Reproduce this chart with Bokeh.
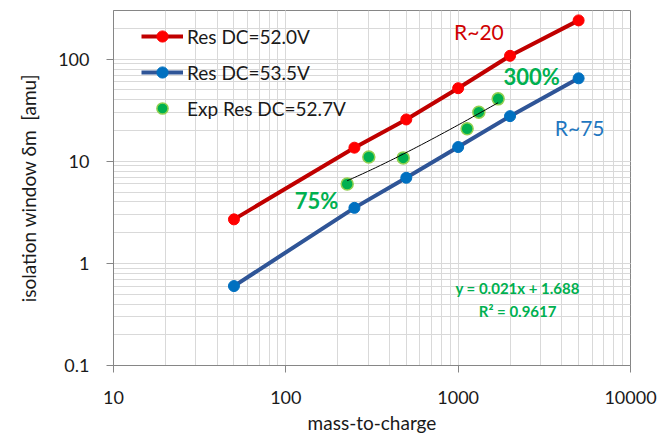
import numpy as np
from bokeh.plotting import figure
from bokeh.models import (Range1d, Legend, LegendItem, Label, LogTicker,
                          CustomJSTickFormatter)
from bokeh.embed import file_html
from bokeh.resources import INLINE

# ---- data ----
mz_res = [50, 250, 500, 1000, 2000, 5000]
res_dc_52_0 = [2.7, 13.6, 25.7, 52, 108, 240]
res_dc_53_5 = [0.6, 3.5, 6.9, 13.8, 27.7, 65]
mz_exp = [227, 303, 480, 1127, 1318, 1706]
exp_res_dc_52_7 = [6.0, 11.0, 10.8, 20.8, 30.3, 40.9]
trend_slope = 0.021
trend_intercept = 1.688
series_labels = ["Res DC=52.0V", "Res DC=53.5V", "Exp Res DC=52.7V"]

FONT = "Lato"
GREEN = "#00B050"

p = figure(width=660, height=441, x_axis_type="log", y_axis_type="log",
           x_range=Range1d(10, 10000), y_range=Range1d(0.1, 300),
           output_backend="svg", toolbar_location=None,
           min_border_left=113, min_border_right=30, min_border_top=10,
           min_border_bottom=76)

p.background_fill_color = "white"
p.outline_line_color = "#868686"
for ax in (p.xaxis, p.yaxis):
    ax.ticker = LogTicker(mantissas=[1], num_minor_ticks=10)
    ax.formatter = CustomJSTickFormatter(code="return Number(tick.toPrecision(6)).toString();")
    ax.axis_line_color = "#868686"
    ax.major_tick_line_color = "#868686"
    ax.major_tick_out = 7
    ax.major_tick_in = 0
    ax.minor_tick_out = 0
    ax.minor_tick_in = 0
    ax.major_label_text_font = FONT
    ax.major_label_text_font_size = "18px"
    ax.major_label_text_color = "#1a1a1a"
    ax.axis_label_text_font = FONT
    ax.axis_label_text_font_size = "19px"
    ax.axis_label_text_font_style = "normal"
    ax.axis_label_text_color = "#1a1a1a"

p.xaxis.axis_label = "mass-to-charge"
p.yaxis.axis_label = "isolation window δm\u00a0 [amu]"
p.xaxis.major_label_standoff = 18
p.xaxis.axis_label_standoff = 4
p.yaxis.major_label_standoff = 17
p.yaxis.axis_label_standoff = 15

for g in (p.xgrid, p.ygrid):
    g.grid_line_color = "#D9D9D9"
    g.minor_grid_line_color = "#D9D9D9"

# series
r1l = p.line(mz_res, res_dc_52_0, line_color="#C00000", line_width=4)
r1m = p.scatter(mz_res, res_dc_52_0, size=11, fill_color="#FF0000", line_color="#FF0000")
r2l = p.line(mz_res, res_dc_53_5, line_color="#2F5597", line_width=4)
r2m = p.scatter(mz_res, res_dc_53_5, size=11, fill_color="#0070C0", line_color="#0070C0")
r3m = p.scatter(mz_exp, exp_res_dc_52_7, size=12, fill_color=GREEN,
                line_color="#92D050", line_width=1.5)

# linear trendline of the experimental points (curved on log-log axes)
tx = np.geomspace(min(mz_exp), max(mz_exp), 60)
ty = trend_slope * tx + trend_intercept
p.line(tx, ty, line_color="black", line_width=1)

legend = Legend(items=[
    LegendItem(label=series_labels[0], renderers=[r1l, r1m]),
    LegendItem(label=series_labels[1], renderers=[r2l, r2m]),
    LegendItem(label=series_labels[2], renderers=[r3m]),
], location=(28, 243))
legend.background_fill_alpha = 0
legend.border_line_color = None
legend.padding = 0
legend.margin = 0
legend.spacing = 8
legend.glyph_width = 42
legend.glyph_height = 28
legend.label_height = 28
legend.label_standoff = 4
legend.label_text_font = FONT
legend.label_text_font_size = "19px"
legend.label_text_color = "#1a1a1a"
p.add_layout(legend)

def add_label(x, y, text, color, size, bold=False):
    p.add_layout(Label(x=x, y=y, text=text, text_color=color, text_font=FONT,
                       text_font_size=size, text_align="center",
                       text_baseline="middle",
                       text_font_style="bold" if bold else "normal"))

add_label(1320, 185, "R~20", "#D00000", "21px")
add_label(5070, 21.6, "R~75", "#1F77C0", "21px")
add_label(2667, 68.2, "300%", GREEN, "22px", bold=True)
add_label(150.7, 4.09, "75%", GREEN, "22px", bold=True)
add_label(2213, 0.577, "y = %.3fx + %.3f" % (trend_slope, trend_intercept), GREEN, "15px", bold=True)
add_label(2213, 0.344, "R² = 0.9617", GREEN, "15px", bold=True)

open("out.html", "w").write(file_html(p, INLINE))
